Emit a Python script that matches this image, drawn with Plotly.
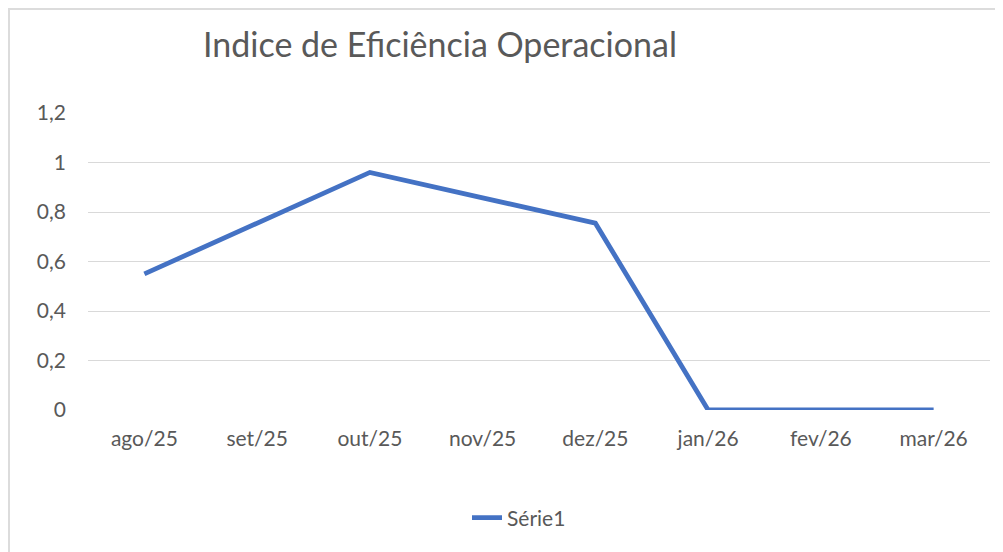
import plotly.graph_objects as go

categories = ["ago/25", "set/25", "out/25", "nov/25", "dez/25", "jan/26", "fev/26", "mar/26"]
values = [0.55, 0.755, 0.96, 0.857, 0.755, 0, 0, 0]
series_name = "Série1"
title_text = "Indice de Eficiência Operacional"
y_ticks = [0, 0.2, 0.4, 0.6, 0.8, 1, 1.2]

# page has an 8px body margin, so the figure is drawn 8px lower/right
OFF = 8
W, H = 1003 - OFF, 552 - OFF
L, R, T, B = 88 - OFF, 13, 113 - OFF, 142
pw, ph = W - L - R, H - T - B

def px_x(x):  # page x -> paper
    return (x - OFF - L) / pw

def px_y(y):  # page y -> paper
    return (H - B - (y - OFF)) / ph

FONT = "Lato, 'Open Sans', sans-serif"
GRAY = "#595959"

fig = go.Figure()
fig.add_trace(go.Scatter(
    x=categories, y=values, mode="lines", name=series_name,
    line=dict(color="#4472C4", width=4.8),
))

fig.update_layout(
    width=W, height=H,
    margin=dict(l=L, r=R, t=T, b=B, autoexpand=False),
    paper_bgcolor="white", plot_bgcolor="white",
    separators=", ",
    font=dict(family=FONT, color=GRAY, size=21),
    title=dict(text=title_text, x=(440 - OFF) / W, xanchor="center", xref="container",
               y=1 - (45 - OFF) / H, yanchor="middle",
               font=dict(family=FONT, size=34, color=GRAY)),
    showlegend=True,
    legend=dict(orientation="h", x=px_x(519), xanchor="center", y=px_y(518), yanchor="middle",
                font=dict(family=FONT, size=21, color=GRAY), bgcolor="rgba(0,0,0,0)"),
    xaxis=dict(type="category", showgrid=False, showline=False, zeroline=False,
               ticks="", ticklabelstandoff=14, range=[-0.5, 7.5]),
    yaxis=dict(range=[0, 1.2], tickvals=y_ticks, showgrid=True, gridcolor="#D9D9D9", gridwidth=1.3,
               zeroline=False, showline=False, ticks="", ticklabelstandoff=21),
    shapes=[
        dict(type="line", xref="paper", yref="paper", x0=px_x(OFF), x1=px_x(1003), y0=px_y(OFF + 1), y1=px_y(OFF + 1),
             line=dict(color="#DCDCDC", width=2)),
        dict(type="line", xref="paper", yref="paper", x0=px_x(OFF + 1), x1=px_x(OFF + 1), y0=px_y(OFF), y1=px_y(552),
             line=dict(color="#DCDCDC", width=2)),
    ],
)

fig.write_html("out.html")
